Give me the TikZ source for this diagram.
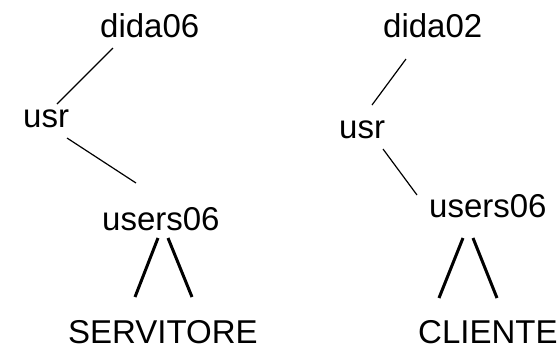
\documentclass[tikz,border=0pt]{standalone}
\usepackage{fontspec}
\setmainfont{Liberation Sans}
\begin{document}
\begin{tikzpicture}[x=1pt,y=-1pt,
  label/.style={inner sep=0pt,anchor=base west,font=\fontsize{33}{40}\selectfont},
  thinlink/.style={line width=1.2pt},
  thicklink/.style={line width=3pt}]
\useasboundingbox (0,0) rectangle (560,354);

% server side tree
\node[label] (sdida)  at (100,37)  {dida06};
\node[label] (susr)   at (23,127)  {usr};
\node[label] (susers) at (102,230) {users06};
\node[label] (serv)   at (68,343)  {SERVITORE};

\coordinate (s1a) at (113,48);  \coordinate (s1b) at (57,104);
\coordinate (s2a) at (67,138);  \coordinate (s2b) at (136,183);
\coordinate (s3a) at (158,238); \coordinate (s3b) at (135,297);
\coordinate (s4a) at (168,238); \coordinate (s4b) at (192,297);
\draw[thinlink]  (s1a) -- (s1b);
\draw[thinlink]  (s2a) -- (s2b);
\draw[thicklink] (s3a) -- (s3b);
\draw[thicklink] (s4a) -- (s4b);

% client side tree
\node[label] (cdida)  at (383,37)  {dida02};
\node[label] (cusr)   at (339,138) {usr};
\node[label] (cusers) at (429,217) {users06};
\node[label] (cli)    at (418,343) {CLIENTE};

\coordinate (c1a) at (406,59);  \coordinate (c1b) at (372,105);
\coordinate (c2a) at (383,149); \coordinate (c2b) at (417,195);
\coordinate (c3a) at (463,238); \coordinate (c3b) at (439,298);
\coordinate (c4a) at (473,238); \coordinate (c4b) at (497,298);
\draw[thinlink]  (c1a) -- (c1b);
\draw[thinlink]  (c2a) -- (c2b);
\draw[thicklink] (c3a) -- (c3b);
\draw[thicklink] (c4a) -- (c4b);
\end{tikzpicture}
\end{document}
